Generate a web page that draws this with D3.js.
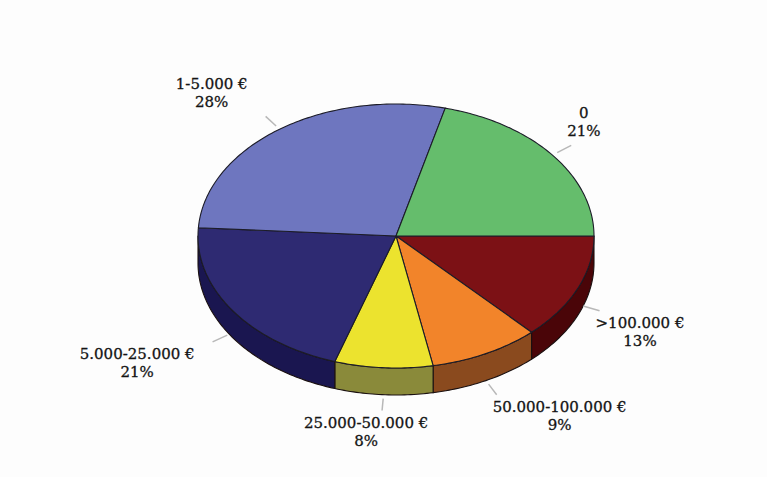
<!DOCTYPE html>
<html><head><meta charset="utf-8">
<script src="https://cdn.jsdelivr.net/npm/d3@7"></script>
<style>html,body{margin:0;padding:0;background:#fdfdfd;}svg{display:block;}</style>
</head><body>
<script>
const categories = [">100.000 €", "50.000-100.000 €", "25.000-50.000 €", "5.000-25.000 €", "1-5.000 €", "0"];
const values = [13, 9, 8, 21, 28, 21];
const percentLabels = ["13%", "9%", "8%", "21%", "28%", "21%"];
const topColors = ["#7c1115", "#f2842a", "#ece32e", "#2e2a72", "#6e76bf", "#65bd6c"];
const sideColors = ["#4a0508", "#8a4a1e", "#8a8a3a", "#1a1650", "#3d427a", "#3a7a40"];

const W = 767, H = 477;
const cx = 396, cy = 236, rx = 198, ry = 132, depth = 27;

const svg = d3.select("body").append("svg").attr("width", W).attr("height", H);
svg.append("rect").attr("width", W).attr("height", H).attr("fill", "#fdfdfd");

const pie = d3.pie().sort(null).value(d => d).startAngle(Math.PI/2).endAngle(Math.PI/2 + 2*Math.PI);
const arcs = pie(values);

const px = a => cx + Math.sin(a) * rx;
const py = a => cy - Math.cos(a) * ry;
const angScale = n => d3.range(n + 1).map(i => i / n);

function arcPoints(a0, a1, dy) {
  const n = Math.max(2, Math.ceil(Math.abs(a1 - a0) * 60));
  return angScale(n).map(t => { const a = a0 + (a1 - a0) * t; return [px(a), py(a) + dy]; });
}

// side walls (front half only)
const gSide = svg.append("g");
arcs.forEach((d, i) => {
  const a0 = Math.max(d.startAngle, Math.PI/2), a1 = Math.min(d.endAngle, 3*Math.PI/2);
  if (a1 <= a0) return;
  const top = arcPoints(a0, a1, 0);
  const bot = arcPoints(a1, a0, depth);
  const p = d3.path();
  top.concat(bot).forEach((pt, k) => k ? p.lineTo(pt[0], pt[1]) : p.moveTo(pt[0], pt[1]));
  p.closePath();
  gSide.append("path").attr("d", p.toString()).attr("fill", sideColors[i])
    .attr("stroke", "#1a1010").attr("stroke-width", 1.1).attr("stroke-linejoin", "round");
});

// top faces
const gTop = svg.append("g");
arcs.forEach((d, i) => {
  const pts = arcPoints(d.startAngle, d.endAngle, 0);
  const p = d3.path();
  p.moveTo(cx, cy);
  pts.forEach(pt => p.lineTo(pt[0], pt[1]));
  p.closePath();
  gTop.append("path").attr("d", p.toString()).attr("fill", topColors[i])
    .attr("stroke", "#1c1c28").attr("stroke-width", 1.1).attr("stroke-linejoin", "round");
});

// leaders + labels
const gLab = svg.append("g").attr("font-family", "'DejaVu Serif', serif").attr("font-size", 15).attr("fill", "#141414");
arcs.forEach((d, i) => {
  const a = (d.startAngle + d.endAngle) / 2;
  const dx = Math.sin(a), dyv = -Math.cos(a);
  const off = dyv > 0 ? depth * Math.min(1, dyv * 1.5) : 0;
  const s = [cx + dx * rx * 1.03, cy + dyv * ry * 1.03 + off];
  const e = [cx + dx * rx * 1.12, cy + dyv * ry * 1.12 + off];
  gLab.append("line").attr("x1", s[0]).attr("y1", s[1]).attr("x2", e[0]).attr("y2", e[1])
    .attr("stroke", "#b8b8b8").attr("stroke-width", 1.5);
  const g = gLab.append("g");
  const t1 = g.append("text").attr("text-anchor", "middle").attr("stroke", "#141414").attr("stroke-width", 0.3).text(categories[i]);
  const t2 = g.append("text").attr("text-anchor", "middle").attr("stroke", "#141414").attr("stroke-width", 0.3).text(percentLabels[i]);
  const w = Math.max(t1.node().getComputedTextLength(), t2.node().getComputedTextLength());
  let bx;
  if (dx > 0.3) bx = e[0] - 4 + w / 2;
  else if (dx < -0.3) bx = e[0] - 18 - w / 2;
  else bx = e[0] - 16;
  const lh = 18, bh = 2 * lh;
  let topY = dyv < 0 ? e[1] - 4 - bh : e[1] + 4;
  t1.attr("x", bx).attr("y", topY + 13);
  t2.attr("x", bx).attr("y", topY + 13 + lh);
});
</script>
</body></html>
